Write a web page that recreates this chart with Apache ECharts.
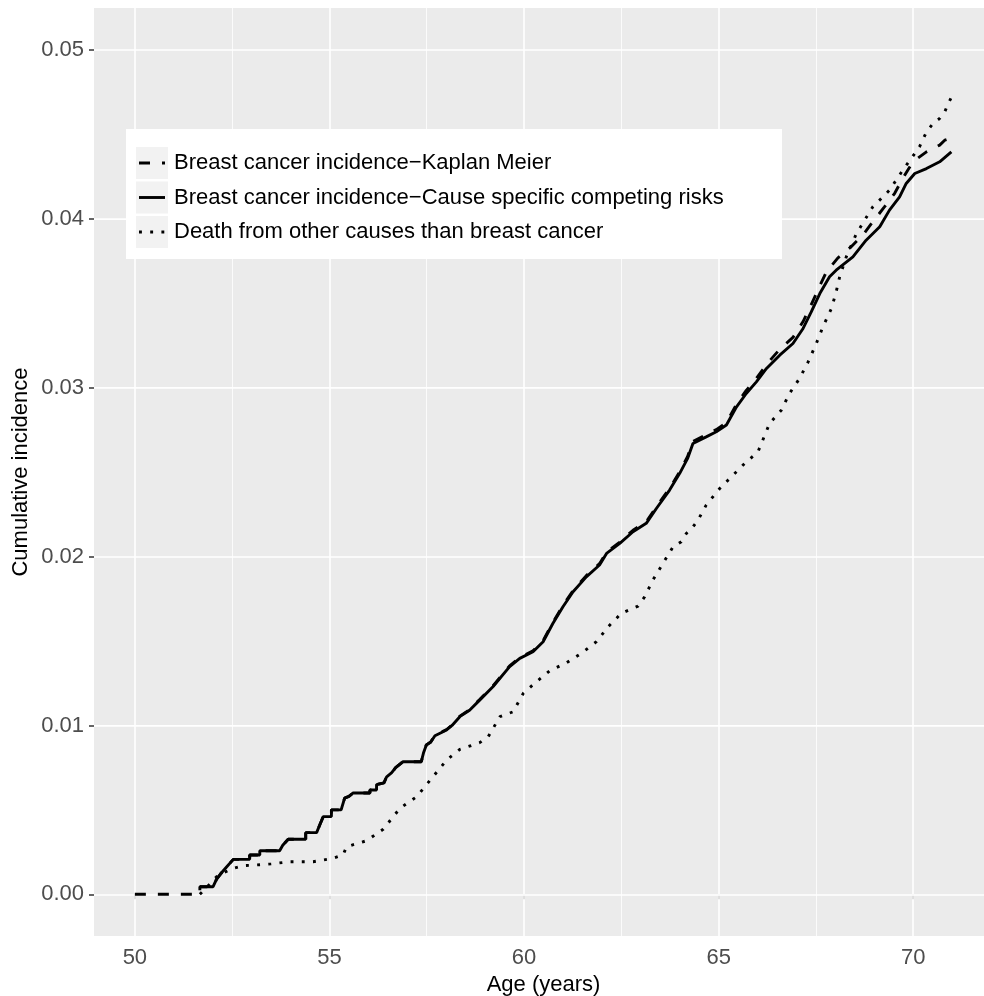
<!DOCTYPE html>
<html>
<head>
<meta charset="utf-8">
<script src="https://cdn.jsdelivr.net/npm/echarts@6/dist/echarts.min.js"></script>
<style>
html,body{margin:0;padding:0;background:#fff;}
#chart{width:984px;height:996px;}
</style>
</head>
<body>
<div id="chart"></div>
<script>
// ---- data ----
const seriesNames = [
  'Breast cancer incidence\u2212Kaplan Meier',
  'Breast cancer incidence\u2212Cause specific competing risks',
  'Death from other causes than breast cancer'
];

// Kaplan-Meier (dashed)
const kmData = [
  [50,0],[51.67,0],[51.67,0.00045],[52.01,0.00045],[52.1,0.0009],[52.2,0.0012],[52.35,0.0016],[52.53,0.00207],
  [52.95,0.00207],[52.95,0.00233],[53.21,0.00233],[53.21,0.00258],[53.72,0.00258],[53.8,0.0029],[53.94,0.00326],
  [54.39,0.00326],[54.39,0.00365],[54.67,0.00365],[54.75,0.0041],[54.84,0.0046],[55.05,0.0046],[55.05,0.005],
  [55.3,0.005],[55.39,0.0057],[55.5,0.0058],[55.61,0.006],[56.04,0.006],[56.04,0.00618],[56.21,0.00618],
  [56.21,0.0065],[56.4,0.0066],[56.47,0.00696],[56.6,0.0072],[56.7,0.0075],[56.89,0.00785],[57.36,0.00785],
  [57.42,0.0084],[57.49,0.00885],[57.6,0.00902],[57.71,0.00941],[58.01,0.00976],[58.15,0.01003],[58.35,0.01055],
  [58.6,0.01094],[58.86,0.01154],[59.2,0.01233],[59.63,0.01353],[59.89,0.01402],[60.23,0.01442],[60.49,0.01502],
  [60.74,0.0161],[61.0,0.0171],[61.26,0.01799],[61.6,0.01887],[61.94,0.01958],[62.12,0.02027],[62.46,0.02086],
  [62.8,0.02156],[63.14,0.02206],[63.4,0.02295],[63.74,0.02404],[64.0,0.02503],[64.2,0.02592],[64.34,0.02682],
  [64.68,0.02722],[64.94,0.02752],[65.2,0.02793],[65.46,0.02903],[65.71,0.02984],[65.97,0.03055],[66.23,0.03138],
  [66.57,0.03228],[66.91,0.03298],[67.17,0.03392],[67.38,0.03492],[67.6,0.03604],[67.77,0.03686],[68.06,0.03768],
  [68.4,0.03834],[68.7,0.03903],[68.96,0.03982],[69.26,0.04071],[69.52,0.0415],[69.73,0.04239],[69.99,0.04338],
  [70.34,0.04397],[70.68,0.04437],[70.81,0.04466],[71.0,0.0448]
];

// Cause specific competing risks (solid)
const csData = [
  [51.67,0.00045],[52.01,0.00045],[52.1,0.0009],[52.2,0.0012],[52.35,0.0016],[52.53,0.00207],[52.95,0.00207],
  [52.95,0.00233],[53.21,0.00233],[53.21,0.00258],[53.72,0.00258],[53.8,0.0029],[53.94,0.00326],[54.39,0.00326],
  [54.39,0.00365],[54.67,0.00365],[54.75,0.0041],[54.84,0.0046],[55.05,0.0046],[55.05,0.005],[55.3,0.005],
  [55.39,0.0057],[55.5,0.0058],[55.61,0.006],[56.04,0.006],[56.04,0.00618],[56.21,0.00618],[56.21,0.0065],
  [56.4,0.0066],[56.47,0.00696],[56.6,0.0072],[56.7,0.0075],[56.89,0.00785],[57.36,0.00785],[57.42,0.0084],
  [57.49,0.00884],[57.6,0.009],[57.71,0.00939],[58.01,0.00973],[58.15,0.01],[58.35,0.01052],[58.6,0.0109],
  [58.86,0.0115],[59.2,0.01229],[59.63,0.01348],[59.89,0.01397],[60.23,0.01436],[60.49,0.01496],[60.74,0.01604],
  [61.0,0.01703],[61.26,0.01792],[61.6,0.0188],[61.94,0.0195],[62.12,0.02019],[62.46,0.02078],[62.8,0.02147],
  [63.14,0.02197],[63.4,0.02285],[63.74,0.02394],[64.0,0.02493],[64.2,0.0258],[64.34,0.0267],[64.68,0.02709],
  [64.94,0.02739],[65.2,0.02779],[65.46,0.02887],[65.71,0.02966],[65.97,0.03035],[66.23,0.03114],[66.57,0.03193],
  [66.91,0.03262],[67.17,0.03351],[67.38,0.03449],[67.6,0.03558],[67.85,0.03657],[68.02,0.03696],[68.45,0.03775],
  [68.79,0.03874],[69.14,0.03953],[69.39,0.04052],[69.65,0.0413],[69.82,0.0421],[70.04,0.04269],[70.34,0.04298],
  [70.68,0.04338],[70.98,0.04397]
];

// Death from other causes (dotted)
const otherData = [
  [51.67,0],[51.8,0.0003],[52.1,0.00104],[52.3,0.0013],[52.53,0.00154],[52.8,0.0017],[53.08,0.00173],[53.5,0.0018],
  [53.98,0.00193],[54.58,0.00193],[55.09,0.00213],[55.35,0.00233],[55.44,0.00282],[55.95,0.00317],[56.38,0.00385],
  [56.81,0.00509],[57.24,0.00578],[57.66,0.00696],[58.01,0.00795],[58.35,0.00858],[58.86,0.00898],[59.08,0.00933],
  [59.38,0.01052],[59.72,0.01081],[59.98,0.0119],[60.32,0.01259],[60.66,0.01324],[61.09,0.01371],[61.47,0.01427],
  [61.86,0.01496],[62.16,0.01584],[62.5,0.01664],[62.93,0.01707],[63.1,0.01762],[63.31,0.01861],[63.57,0.0196],
  [63.83,0.02058],[64.04,0.02088],[64.17,0.02137],[64.34,0.02176],[64.47,0.02216],[64.68,0.02305],[65.03,0.02404],
  [65.33,0.02473],[65.67,0.02552],[66.01,0.0262],[66.31,0.02789],[66.61,0.02867],[66.82,0.02966],[67.08,0.03055],
  [67.3,0.03153],[67.51,0.03262],[67.68,0.03361],[67.9,0.0347],[68.02,0.03568],[68.11,0.03657],[68.28,0.03775],
  [68.54,0.03913],[68.96,0.04071],[69.22,0.0413],[69.39,0.0417],[69.73,0.04288],[70.16,0.04426],[70.34,0.04515],
  [70.51,0.04565],[70.68,0.04595],[70.81,0.04634],[70.9,0.04683],[71.02,0.04738]
];

// tick positions
const xTicks = [50, 55, 60, 65, 70];
const xMinor = [52.5, 57.5, 62.5, 67.5];
const yTicks = [0, 0.01, 0.02, 0.03, 0.04, 0.05];
const yMinor = [0.005, 0.015, 0.025, 0.035, 0.045];

// ---- chart ----
const FONT = '"Liberation Sans", Arial, Helvetica, sans-serif';
const LW = 2.9;
const DASH = [11, 12];
const DOT = [2.9, 8.3];
const chart = echarts.init(document.getElementById('chart'), null, {renderer: 'canvas'});

const gridLines = [];
xMinor.forEach(v => gridLines.push({xAxis: v, lineStyle: {color: '#fff', width: 0.8, type: 'solid'}}));
yMinor.forEach(v => gridLines.push({yAxis: v, lineStyle: {color: '#fff', width: 0.8, type: 'solid'}}));
xTicks.forEach(v => gridLines.push({xAxis: v, lineStyle: {color: '#fff', width: 1.6, type: 'solid'}}));
yTicks.forEach(v => gridLines.push({yAxis: v, lineStyle: {color: '#fff', width: 1.6, type: 'solid'}}));

// legend drawn as graphic (box, grey key squares, key lines, labels)
const keyStyles = [DASH, 'solid', DOT];
const legendEls = [
  {type: 'rect', left: 126, top: 129, z: 3, silent: true, shape: {width: 656, height: 130}, style: {fill: '#fff'}}
];
const rowTops = [147, 181.5, 216];
rowTops.forEach((t, i) => {
  legendEls.push({type: 'rect', left: 136, top: t, z: 3.5, silent: true,
    shape: {width: 32, height: 32}, style: {fill: '#F2F2F2'}});
  const cy = t + 16;
  legendEls.push({type: 'line', z: 4, silent: true,
    shape: {x1: 139, y1: cy, x2: 165, y2: cy},
    style: {stroke: '#000', lineWidth: LW, lineDash: keyStyles[i] === 'solid' ? null : keyStyles[i], lineCap: 'butt'}});
  legendEls.push({type: 'text', z: 4, silent: true, x: 174, y: cy,
    style: {text: seriesNames[i], fill: '#000', font: '22px ' + FONT, textVerticalAlign: 'middle', verticalAlign: 'middle'}});
});

const option = {
  animation: false,
  backgroundColor: '#fff',
  textStyle: {fontFamily: FONT},
  grid: {left: 94, top: 8, width: 899, height: 928, show: true, backgroundColor: '#EBEBEB', borderWidth: 0,
    containLabel: false, outerBoundsMode: 'none'},
  xAxis: {
    type: 'value', min: 48.95, max: 72.05,
    name: 'Age (years)', nameLocation: 'middle', nameGap: 38, nameMoveOverlap: false,
    nameTextStyle: {fontSize: 22, color: '#000', fontFamily: FONT},
    axisLine: {show: false},
    splitLine: {show: false},
    axisTick: {show: true, customValues: xTicks, length: 5, lineStyle: {color: '#333', width: 1.5}},
    axisLabel: {customValues: xTicks, fontSize: 22, color: '#4D4D4D', margin: 11, fontFamily: FONT}
  },
  yAxis: {
    type: 'value', min: -0.00247, max: 0.05249,
    name: 'Cumulative incidence', nameLocation: 'middle', nameGap: 62, nameRotate: 90, nameMoveOverlap: false,
    nameTextStyle: {fontSize: 22, color: '#000', fontFamily: FONT},
    axisLine: {show: false},
    splitLine: {show: false},
    axisTick: {show: true, customValues: yTicks, length: 5, lineStyle: {color: '#333', width: 1.5}},
    axisLabel: {customValues: yTicks, fontSize: 22, color: '#4D4D4D', margin: 10, fontFamily: FONT,
      formatter: v => Number(v).toFixed(2)}
  },
  graphic: {elements: legendEls},
  series: [
    {
      name: 'grid', type: 'line', data: [], z: 1, silent: true,
      markLine: {silent: true, z: 1, symbol: ['none', 'none'], label: {show: false}, animation: false, data: gridLines}
    },
    {
      name: seriesNames[0], type: 'line', data: kmData, z: 2, showSymbol: false, symbol: 'none',
      lineStyle: {color: '#000', width: LW, type: DASH, cap: 'butt'}
    },
    {
      name: seriesNames[1], type: 'line', data: csData, z: 2, showSymbol: false, symbol: 'none',
      lineStyle: {color: '#000', width: LW, type: 'solid'}
    },
    {
      name: seriesNames[2], type: 'line', data: otherData, z: 2, showSymbol: false, symbol: 'none',
      lineStyle: {color: '#000', width: LW, type: DOT, cap: 'butt'}
    }
  ]
};
chart.setOption(option);
</script>
</body>
</html>
